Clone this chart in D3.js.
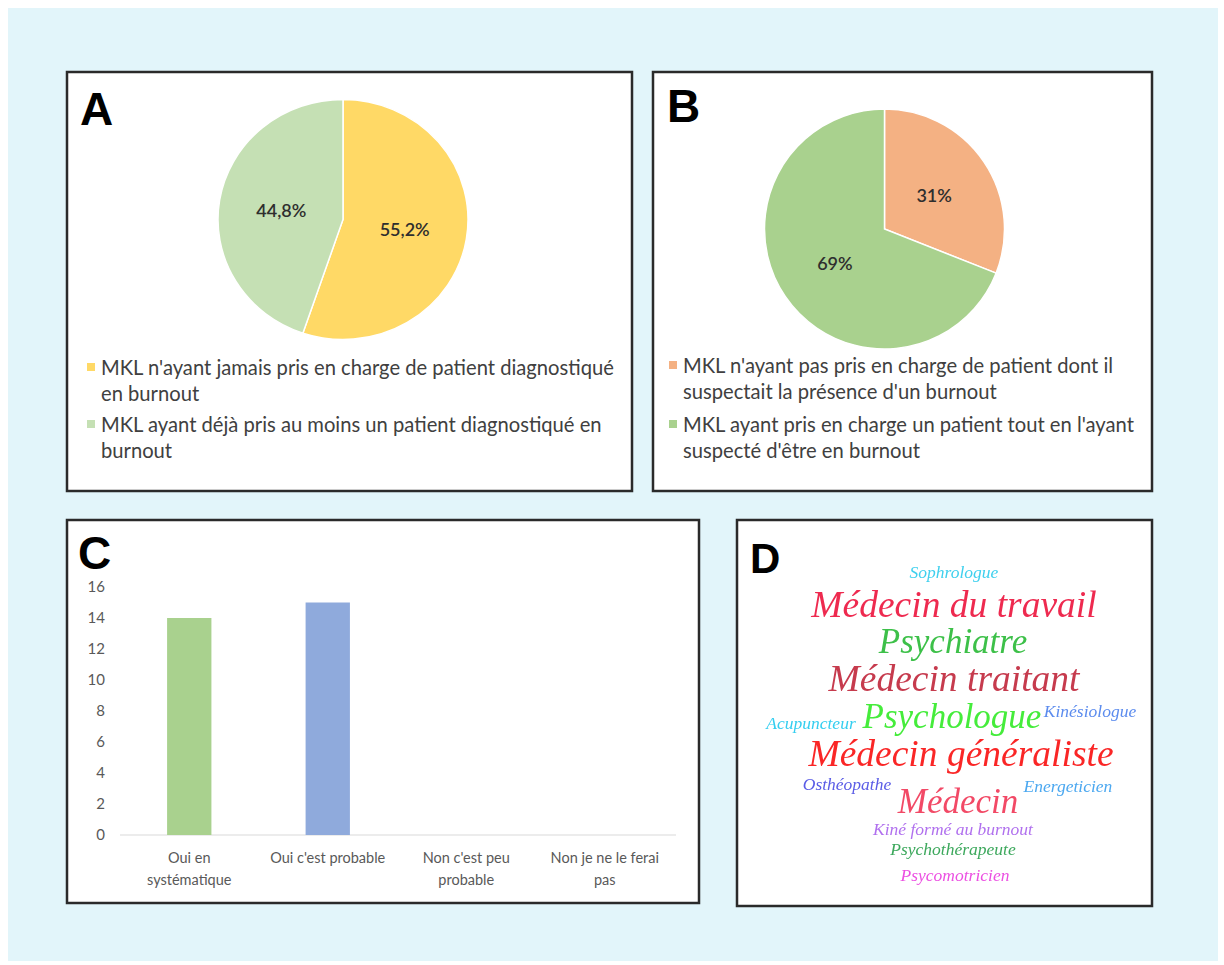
<!DOCTYPE html>
<html>
<head>
<meta charset="utf-8">
<script src="https://cdn.jsdelivr.net/npm/d3@7/dist/d3.min.js"></script>
<style>
  html, body { margin: 0; padding: 0; background: #ffffff; }
  svg { display: block; }
</style>
</head>
<body>
<svg id="fig" width="1224" height="965"></svg>
<script>
// ---- Panel A: prise en charge de patients diagnostiqués en burnout
const pieALabels = [
  ["MKL n'ayant jamais pris en charge de patient diagnostiqué", "en burnout"],
  ["MKL ayant déjà pris au moins un patient diagnostiqué en", "burnout"]
];
const pieAValues = [55.2, 44.8];
const pieAText = ["55,2%", "44,8%"];
const pieAColors = ["#FFD966", "#C5E0B4"];

// ---- Panel B: prise en charge avec suspicion de burnout
const pieBLabels = [
  ["MKL n'ayant pas pris en charge de patient dont il", "suspectait la présence d'un burnout"],
  ["MKL ayant pris en charge un patient tout en l'ayant", "suspecté d'être en burnout"]
];
const pieBValues = [31, 69];
const pieBText = ["31%", "69%"];
const pieBColors = ["#F4B183", "#A9D18E"];

// ---- Panel C: orientation vers un autre professionnel
const barCategories = ["Oui en systématique", "Oui c'est probable", "Non c'est peu probable", "Non je ne le ferai pas"];
const barCatLines = [["Oui en", "systématique"], ["Oui c'est probable"], ["Non c'est peu", "probable"], ["Non je ne le ferai", "pas"]];
const barValues = [14, 15, 0, 0];
const barColors = ["#A9D18E", "#8FAADC", "#F4B183", "#FFD966"];
const barTicks = [0, 2, 4, 6, 8, 10, 12, 14, 16];

// ---- Panel D: professionnels cités
const cloudWords = ["Sophrologue", "Médecin du travail", "Psychiatre", "Médecin traitant", "Kinésiologue",
  "Psychologue", "Acupuncteur", "Médecin généraliste", "Osthéopathe", "Energeticien", "Médecin",
  "Kiné formé au burnout", "Psychothérapeute", "Psycomotricien"];
const cloudWeights = [1, 6, 5, 6, 1, 5, 1, 6, 1, 1, 5, 1, 1, 1];
const cloudColors = ["#3FD0EE", "#EE2A50", "#3CC048", "#C63A4E", "#5C8CEE", "#44EC3A", "#34CEF0",
  "#FA2626", "#5A5CE6", "#4CA8F0", "#F24A66", "#B070EE", "#3CA85C", "#EC50E2"];

// ---------------------------------------------------------------------------
const svg = d3.select("#fig");
const sans = "Lato, 'Open Sans', sans-serif";

// page background
svg.append("rect").attr("x", 8).attr("y", 8).attr("width", 1210).attr("height", 953).attr("fill", "#E2F5FA");

const defs = svg.append("defs");
defs.append("filter").attr("id", "soft").attr("x", "-10%").attr("y", "-20%").attr("width", "120%").attr("height", "140%")
  .append("feGaussianBlur").attr("stdDeviation", 0.55);

// framed panels
const panels = [
  { id: "A", x: 67, y: 72, w: 565, h: 419, lx: 80, ly: 125 },
  { id: "B", x: 653, y: 72, w: 499, h: 419, lx: 667, ly: 122 },
  { id: "C", x: 67, y: 520, w: 632, h: 383, lx: 78, ly: 569 },
  { id: "D", x: 737, y: 520, w: 415, h: 386, lx: 750, ly: 573 }
];
panels.forEach(p => {
  svg.append("rect").attr("x", p.x).attr("y", p.y).attr("width", p.w).attr("height", p.h)
    .attr("fill", "#ffffff").attr("stroke", "#2A2A2A").attr("stroke-width", 2.5);
});

// ---- pie helper
function drawPie(cx, cy, r, sy, values, colors, texts, labels, legend) {
  const g = svg.append("g").attr("transform", `translate(${cx},${cy}) scale(1,${sy})`);
  const pie = d3.pie().sort(null).value(d => d);
  const arcs = pie(values);
  const arc = d3.arc().innerRadius(0).outerRadius(r);
  g.selectAll("path").data(arcs).join("path")
    .attr("d", arc).attr("fill", (d, i) => colors[i])
    .attr("stroke", "#ffffff").attr("stroke-width", 1.5);
  arcs.forEach((d, i) => {
    const [lx, ly] = arc.centroid(d);
    svg.append("text").attr("x", cx + lx).attr("y", cy + ly * sy)
      .attr("text-anchor", "middle").attr("dominant-baseline", "central")
      .attr("font-family", sans).attr("font-size", 18).attr("font-weight", 600).attr("fill", "#2E2E2E")
      .text(texts[i]);
  });
  // legend
  const lg = svg.append("g");
  labels.forEach((lines, i) => {
    const y0 = legend.y + i * legend.itemGap;
    lg.append("rect").attr("x", legend.x - 14).attr("y", y0 - 4).attr("width", 8).attr("height", 8).attr("fill", colors[i]);
    lines.forEach((t, j) => {
      lg.append("text").attr("class", "leg").attr("x", legend.x).attr("y", y0 + j * legend.lineGap)
        .attr("dominant-baseline", "central")
        .attr("font-family", sans).attr("font-size", 18).attr("fill", "#404040").text(t);
    });
  });
  return lg;
}

const legA = drawPie(343, 219.5, 125, 0.96, pieAValues, pieAColors, pieAText, pieALabels,
  { x: 101, y: 367, itemGap: 57, lineGap: 25.5 });
const legB = drawPie(884.5, 229, 120, 1, pieBValues, pieBColors, pieBText, pieBLabels,
  { x: 683, y: 365, itemGap: 59, lineGap: 25.5 });

// fit legend font so the longest line spans the same width as in the figure
(function fitLegend() {
  const first = legA.select("text.leg").node();
  const w = first.getComputedTextLength();
  const size = 18 * 513 / w;
  svg.selectAll("text.leg").attr("font-size", size.toFixed(2));
})();

// ---- Panel C: bar chart
const x = d3.scaleBand().domain(barCategories).range([120, 674]).paddingInner(0.68).paddingOuter(0.34);
const y = d3.scaleLinear().domain([0, 16]).range([835, 587]);

svg.append("line").attr("x1", 120).attr("x2", 676).attr("y1", y(0)).attr("y2", y(0))
  .attr("stroke", "#D9D9D9").attr("stroke-width", 1.2);

svg.append("g").selectAll("rect").data(barValues).join("rect")
  .attr("x", (d, i) => x(barCategories[i])).attr("width", x.bandwidth())
  .attr("y", d => y(d)).attr("height", d => y(0) - y(d))
  .attr("fill", (d, i) => barColors[i]);

const yAxis = svg.append("g").attr("transform", "translate(120,0)")
  .call(d3.axisLeft(y).tickValues(barTicks).tickSize(0).tickPadding(15).tickFormat(d3.format("d")));
yAxis.select(".domain").remove();
yAxis.selectAll("text").attr("font-family", sans).attr("font-size", 15).attr("fill", "#595959");

barCategories.forEach((c, i) => {
  const cx = x(c) + x.bandwidth() / 2;
  barCatLines[i].forEach((t, j) => {
    svg.append("text").attr("x", cx).attr("y", 857 + j * 22.5)
      .attr("text-anchor", "middle").attr("dominant-baseline", "central")
      .attr("font-family", sans).attr("font-size", 14.5).attr("fill", "#595959").text(t);
  });
});

// ---- Panel D: word cloud
const cloudCenter = [955, 725];
// placement of each word in the cloud, relative to its centre
const cloudSpots = [[-1, -153], [-1, -121], [-2, -84], [-1, -47], [135, -14], [-3, -9], [-144, -2],
  [6, 28], [-108, 59], [113, 61], [3, 76], [-2, 104], [-2, 124], [0, 150]];
const fontSize = d3.scaleLinear().domain([1, 5, 6]).range([17.5, 35, 37.5]);

const cloud = svg.append("g").attr("filter", "url(#soft)");
cloudWords.forEach((w, i) => {
  cloud.append("text")
    .attr("x", cloudCenter[0] + cloudSpots[i][0]).attr("y", cloudCenter[1] + cloudSpots[i][1])
    .attr("text-anchor", "middle").attr("dominant-baseline", "central")
    .attr("font-family", "'Liberation Serif', 'DejaVu Serif', serif").attr("font-style", "italic")
    .attr("font-size", fontSize(cloudWeights[i])).attr("fill", cloudColors[i])
    .text(w);
});

// panel letters
panels.forEach(p => {
  svg.append("text").attr("x", p.lx).attr("y", p.ly)
    .attr("font-family", "'Liberation Sans', Arial, sans-serif").attr("font-weight", "bold")
    .attr("font-size", p.id === "D" ? 42 : 46).attr("fill", "#000").text(p.id);
});
</script>
</body>
</html>
